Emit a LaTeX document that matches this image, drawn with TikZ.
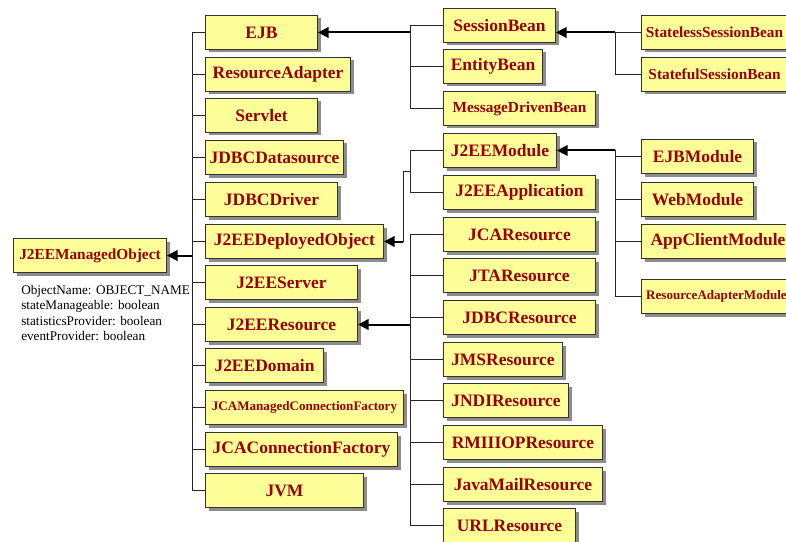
\documentclass[tikz,border=0pt]{standalone}
\usepackage{fontspec}
\setmainfont{Liberation Serif}
\usetikzlibrary{arrows.meta,shadows}

\definecolor{boxfill}{RGB}{255,255,153}
\definecolor{boxtext}{RGB}{153,0,0}

\tikzset{
  box/.style={draw=black!80, line width=0.75pt, fill=boxfill, text=boxtext,
    font=\bfseries\fontsize{13.1}{15}\selectfont, anchor=north west,
    minimum height=25.5pt, inner sep=0pt,
    general shadow={fill=black!45, shadow xshift=2.25pt, shadow yshift=-2.25pt}},
  bw/.style={minimum width=#1*0.75pt},
  medtext/.style={font=\bfseries\fontsize{11.5}{13}\selectfont},
  smalltext/.style={font=\bfseries\fontsize{9.8}{11}\selectfont},
  link/.style={draw=black!85, line width=0.75pt},
  inherit/.style={draw=black, line width=1.5pt,
    -{Triangle[length=8pt,width=8pt]}},
}

\begin{document}
\begin{tikzpicture}[x=0.75pt,y=-0.75pt]
\useasboundingbox (0,0) rectangle (786,542);

% root class and its attributes
\node[box,bw=153,medtext] (mo) at (13,238) {J2EEManagedObject};
\node[anchor=north west, align=left, inner sep=0pt,
      font=\fontsize{9.9}{11.6}\selectfont] (attrs) at (21,285)
  {ObjectName: OBJECT\_NAME\\stateManageable: boolean\\statisticsProvider: boolean\\eventProvider: boolean};

% first level
\node[box,bw=112] (ejb)      at (205,15)  {EJB};
\node[box,bw=145] (ra)       at (205,57)  {ResourceAdapter};
\node[box,bw=112] (servlet)  at (205,98)  {Servlet};
\node[box,bw=138] (jdbcds)   at (205,140) {JDBCDatasource};
\node[box,bw=132] (jdbcdrv)  at (205,182) {JDBCDriver};
\node[box,bw=178] (deployed) at (205,224) {J2EEDeployedObject};
\node[box,bw=152] (server)   at (205,265) {J2EEServer};
\node[box,bw=152] (resource) at (205,307) {J2EEResource};
\node[box,bw=118] (domain)   at (205,348) {J2EEDomain};
\node[box,bw=198,smalltext] (jcamcf) at (205,390) {JCAManagedConnectionFactory};
\node[box,bw=192] (jcacf)    at (205,432) {JCAConnectionFactory};
\node[box,bw=158] (jvm)      at (205,473) {JVM};

% second level
\node[box,bw=112] (sb)       at (443,8)   {SessionBean};
\node[box,bw=99]  (eb)       at (443,49)  {EntityBean};
\node[box,bw=152,medtext] (mdb) at (443,91) {MessageDrivenBean};
\node[box,bw=113] (module)   at (443,133) {J2EEModule};
\node[box,bw=152] (app)      at (443,175) {J2EEApplication};
\node[box,bw=152] (jca)      at (443,217) {JCAResource};
\node[box,bw=152] (jta)      at (443,258) {JTAResource};
\node[box,bw=152] (jdbcr)    at (443,300) {JDBCResource};
\node[box,bw=119] (jms)      at (443,342) {JMSResource};
\node[box,bw=125] (jndi)     at (443,383) {JNDIResource};
\node[box,bw=159] (rmi)      at (443,425) {RMIIIOPResource};
\node[box,bw=159] (mail)     at (443,467) {JavaMailResource};
\node[box,bw=132] (url)      at (443,508) {URLResource};

% third level
\node[box,bw=146,medtext] (sless) at (641,15)  {StatelessSessionBean};
\node[box,bw=146,medtext] (sful)  at (641,57)  {StatefulSessionBean};
\node[box,bw=112] (ejbm)     at (641,139) {EJBModule};
\node[box,bw=112] (webm)     at (641,182) {WebModule};
\node[box,bw=153] (appm)     at (641,224) {AppClientModule};
\node[box,bw=150,smalltext] (ram) at (641,279) {ResourceAdapterModule};

% trunk positions
\coordinate (ta) at (192,0);
\coordinate (tb) at (410,0);
\coordinate (tc) at (615,0);
\coordinate (td) at (403,0);
\coordinate (dj) at (410,171);

% J2EEManagedObject subclasses
\foreach \n in {ejb,ra,servlet,jdbcds,jdbcdrv,deployed,server,resource,domain,jcamcf,jcacf,jvm}
  \draw[link] (\n.west) -- (\n.west -| ta);
\draw[link] (ejb.west -| ta) -- (jvm.west -| ta);
\draw[inherit] (ta |- mo.east) -- (mo.east);

% EJB subclasses
\foreach \n in {sb,eb,mdb}
  \draw[link] (\n.west) -- (\n.west -| tb);
\draw[link] (sb.west -| tb) -- (mdb.west -| tb);
\draw[inherit] (tb |- ejb.east) -- (ejb.east);

% SessionBean subclasses
\foreach \n in {sless,sful}
  \draw[link] (\n.west) -- (\n.west -| tc);
\draw[link] (sless.west -| tc) -- (sful.west -| tc);
\draw[inherit] (tc |- sless.west) -- (sb.east |- sless.west);

% J2EEDeployedObject subclasses
\foreach \n in {module,app}
  \draw[link] (\n.west) -- (\n.west -| tb);
\draw[link] (module.west -| tb) -- (app.west -| tb);
\draw[link] (dj) -- (td |- dj) -- (td |- deployed.east);
\draw[inherit] (td |- deployed.east) -- (deployed.east);

% J2EEResource subclasses
\foreach \n in {jca,jta,jdbcr,jms,jndi,rmi,mail,url}
  \draw[link] (\n.west) -- (\n.west -| tb);
\draw[link] (jca.west -| tb) -- (url.west -| tb);
\draw[inherit] (tb |- resource.east) -- (resource.east);

% J2EEModule subclasses
\foreach \n in {ejbm,webm,appm,ram}
  \draw[link] (\n.west) -- (\n.west -| tc);
\draw[link] (tc |- module.east) -- (ram.west -| tc);
\draw[inherit] (tc |- module.east) -- (module.east);
\end{tikzpicture}
\end{document}
